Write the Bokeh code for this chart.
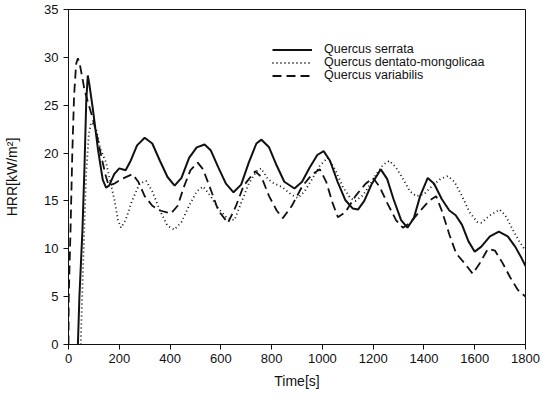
from bokeh.plotting import figure
from bokeh.models import Legend, LegendItem, Range1d, FixedTicker
from bokeh.embed import file_html
from bokeh.resources import INLINE

# Quercus serrata (solid)
serrata_t = [37, 43, 55, 63, 70, 76, 82, 96, 116, 135, 148, 160, 180, 200, 225, 245, 270, 300, 330, 360,
             390, 418, 445, 475, 505, 536, 560, 590, 620, 650, 680, 710, 740, 760, 790, 820, 850, 890, 920,
             950, 980, 1005, 1030, 1060, 1090, 1120, 1140, 1165, 1195, 1230, 1255, 1280, 1310, 1335, 1360,
             1385, 1415, 1440, 1470, 1500, 1525, 1550, 1575, 1600, 1625, 1660, 1695, 1730, 1760, 1785, 1800]
serrata_v = [0, 5, 12, 18.6, 25.5, 28.1, 27.2, 24.6, 20.4, 17.2, 16.4, 16.6, 17.8, 18.4, 18.2, 19.2, 20.8, 21.6,
             21.0, 19.2, 17.5, 16.6, 17.4, 19.5, 20.6, 20.9, 20.3, 18.5, 16.8, 15.9, 16.7, 19.0, 21.0, 21.4,
             20.6, 18.7, 17.0, 16.3, 17.0, 18.5, 19.8, 20.2, 19.2, 17.0, 15.1, 14.2, 14.1, 15.0, 16.8, 18.3,
             17.3, 15.2, 13.0, 12.2, 13.2, 15.5, 17.4, 16.8, 15.2, 14.0, 13.5, 12.5, 10.8, 9.7, 10.2, 11.3,
             11.8, 11.3, 10.2, 9.0, 8.2]

# Quercus dentato-mongolicaa (dotted)
dentato_t = [48, 55, 62, 70, 80, 89, 100, 109, 125, 148, 165, 181, 195, 207, 225, 250, 280, 306, 330, 360,
             390, 417, 445, 475, 505, 530, 560, 590, 625, 654, 680, 710, 740, 759, 785, 805, 844, 875, 903,
             930, 960, 990, 1021, 1050, 1080, 1110, 1130, 1160, 1190, 1212, 1240, 1264, 1290, 1320, 1345,
             1369, 1400, 1430, 1465, 1494, 1520, 1550, 1580, 1610, 1625, 1660, 1698, 1720, 1750, 1775, 1800]
dentato_v = [0, 6, 12, 18, 22, 23.2, 23.0, 22.5, 20.5, 19.0, 17.0, 15.1, 13.0, 12.2, 13.0, 15.0, 16.8, 17.1,
             16.0, 14.0, 12.4, 12.0, 12.8, 14.5, 16.0, 16.5, 15.5, 14.2, 13.2, 13.0, 14.8, 16.8, 18.1, 18.4,
             17.3, 16.9, 16.4, 15.7, 15.3, 16.0, 17.3, 18.7, 19.5, 18.3, 16.5, 15.3, 15.0, 15.6, 16.8, 17.8,
             18.8, 19.2, 18.5, 17.2, 16.0, 15.5, 15.7, 16.5, 17.3, 17.6, 17.0, 15.5, 13.8, 12.8, 12.7, 13.5,
             14.1, 13.5, 12.0, 10.8, 9.8]

# Quercus variabilis (dashed)
variabilis_t = [0, 1, 8, 15, 22, 30, 37, 45, 55, 63, 80, 96, 112, 128, 145, 158, 180, 210, 252, 275, 300, 330,
                360, 404, 430, 455, 480, 509, 530, 560, 590, 628, 660, 690, 735, 760, 790, 820, 844, 880, 920,
                960, 990, 1015, 1040, 1061, 1090, 1130, 1170, 1200, 1225, 1255, 1290, 1317, 1345, 1380, 1420,
                1448, 1470, 1500, 1527, 1560, 1592, 1620, 1652, 1680, 1710, 1740, 1770, 1800]
variabilis_v = [0, 5, 12, 20, 26, 29.3, 29.9, 29.2, 27.8, 26.6, 25.0, 23.6, 21.8, 19.8, 17.8, 16.6, 16.8, 17.3,
                17.8, 17.0, 15.5, 14.5, 14.0, 13.7, 14.5, 16.5, 18.2, 19.0, 18.3, 16.2, 14.0, 12.7, 14.5, 16.6,
                18.1, 17.5, 15.5, 14.0, 13.2, 14.5, 16.5, 17.8, 18.3, 17.0, 14.8, 13.3, 13.8, 15.5, 16.8, 17.4,
                16.5, 14.8, 13.0, 12.2, 12.7, 13.8, 15.0, 15.5, 14.0, 11.5, 9.5, 8.5, 7.4, 8.5, 10.0, 9.8, 8.5,
                7.0, 5.7, 5.0]

x_ticks = [0, 200, 400, 600, 800, 1000, 1200, 1400, 1600, 1800]
y_ticks = [0, 5, 10, 15, 20, 25, 30, 35]
legend_labels = ["Quercus serrata", "Quercus dentato-mongolicaa", "Quercus variabilis"]

FONT = "Liberation Sans"

p = figure(width=542, height=394, output_backend="svg", toolbar_location=None,
           x_range=Range1d(0, 1800), y_range=Range1d(0, 35),
           min_border_left=68, min_border_right=17, min_border_top=9, min_border_bottom=50)
p.background_fill_color = "white"
p.border_fill_color = "white"
p.outline_line_color = "#111111"
p.outline_line_width = 1
p.grid.visible = False

for ax in (p.xaxis[0], p.yaxis[0]):
    ax.major_label_text_font = FONT
    ax.major_label_text_font_size = "13px"
    ax.major_label_text_color = "#111111"
    ax.axis_label_text_font = FONT
    ax.axis_label_text_font_size = "14px"
    ax.axis_label_text_font_style = "normal"
    ax.axis_label_text_color = "#111111"
    ax.axis_line_color = "#111111"
    ax.major_tick_line_color = "#111111"
    ax.major_tick_out = 5
    ax.major_tick_in = 0
    ax.minor_tick_line_color = None

p.xaxis[0].ticker = FixedTicker(ticks=x_ticks)
p.yaxis[0].ticker = FixedTicker(ticks=y_ticks)
p.xaxis[0].axis_label = "Time[s]"
p.yaxis[0].axis_label = "HRR[kW/m\u00b2]"
p.xaxis[0].major_label_standoff = 4
p.yaxis[0].major_label_standoff = 5
p.xaxis[0].axis_label_standoff = 7
p.yaxis[0].axis_label_standoff = 21

r1 = p.line(serrata_t, serrata_v, line_color="#111111", line_width=2)
r2 = p.line(dentato_t, dentato_v, line_color="#111111", line_width=1.8, line_dash="1 3")
r3 = p.line(variabilis_t, variabilis_v, line_color="#111111", line_width=1.8, line_dash="9 5")

# one single-row legend per series, so the rows can sit as tightly as in the reference
for label, rend, ypos in zip(legend_labels, [r1, r2, r3], [288, 275, 262]):
    legend = Legend(items=[LegendItem(label=label, renderers=[rend])], location=(204, ypos))
    legend.border_line_color = None
    legend.background_fill_alpha = 0
    legend.label_text_font = FONT
    legend.label_text_font_size = "12.5px"
    legend.label_text_line_height = 1.0
    legend.label_text_color = "#111111"
    legend.glyph_width = 40
    legend.glyph_height = 11
    legend.label_height = 11
    legend.label_standoff = 12
    legend.spacing = 0
    legend.padding = 0
    legend.margin = 0
    p.add_layout(legend)

open("out.html", "w").write(file_html(p, INLINE))
